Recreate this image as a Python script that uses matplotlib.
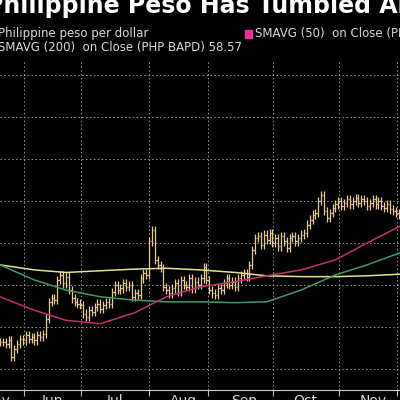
import matplotlib.pyplot as plt
import numpy as np

# closing prices, one per trading day
closes = [
    56.82, 56.82, 56.80, 56.84, 56.64, 56.74, 56.80, 56.86, 56.84, 56.90,
    56.86, 56.88, 56.84, 56.90, 56.88, 56.92, 57.10, 57.30, 57.34, 57.32,
    57.56, 57.62, 57.52, 57.60, 57.44, 57.34, 57.30, 57.28, 57.26, 57.16,
    57.12, 57.20, 57.18, 57.24, 57.28, 57.22, 57.26, 57.30, 57.28, 57.42,
    57.50, 57.44, 57.46, 57.52, 57.48, 57.50, 57.36, 57.40, 57.38, 57.58,
    57.64, 57.62, 58.02, 58.15, 57.80, 57.74, 57.70, 57.48, 57.44, 57.40,
    57.46, 57.52, 57.42, 57.56, 57.50, 57.48, 57.58, 57.46, 57.54, 57.50,
    57.58, 57.71, 57.56, 57.44, 57.40, 57.38, 57.46, 57.44, 57.52, 57.58,
    57.50, 57.54, 57.48, 57.58, 57.62, 57.64, 57.60, 57.74, 57.92, 58.06,
    58.08, 57.98, 58.10, 58.04, 58.12, 58.00, 58.06, 57.96, 58.08, 58.02,
    57.94, 58.06, 58.08, 58.02, 58.06, 58.10, 58.12, 58.22, 58.28, 58.34,
    58.36, 58.50, 58.57, 58.38, 58.30, 58.36, 58.42, 58.46, 58.50, 58.44,
    58.48, 58.52, 58.46, 58.50, 58.54, 58.48, 58.52, 58.50, 58.44, 58.48,
    58.52, 58.46, 58.50, 58.44, 58.42, 58.46, 58.40, 58.38, 58.36, 58.34,
]

# moving averages, sampled along the chart
sma_idx = [0, 12, 23, 35, 47, 58, 70, 82, 93, 105, 117, 128, 140]
sma200 = [57.74, 57.68, 57.65, 57.67, 57.69, 57.70, 57.68, 57.65, 57.61, 57.60, 57.60, 57.61, 57.63]
sma100 = [57.74, 57.56, 57.44, 57.36, 57.32, 57.30, 57.30, 57.29, 57.30, 57.44, 57.62, 57.74, 57.89]
sma50 = [57.36, 57.20, 57.08, 57.04, 57.17, 57.36, 57.48, 57.54, 57.61, 57.68, 57.80, 58.00, 58.21]

month_starts = [8.4, 28.3, 52.1, 72.4, 95.1, 118.2, 138.5]
month_labels = ["May", "Jun", "Jul", "Aug", "Sep", "Oct", "Nov"]
month_label_pos = [-1.5, 18.2, 40.2, 64.0, 85.0, 106.6, 130.0]

BG = "black"
BAR = "#e9c9a0"
TXT = "#d8d8d8"

fig = plt.figure(figsize=(4, 4), dpi=100, facecolor=BG)
ax = fig.add_axes([0, 0.025, 1, 0.825], facecolor=BG)

x = np.arange(len(closes))
opens = [closes[0]] + closes[:-1]
wick = 0.05
for i, (o, c) in enumerate(zip(opens, closes)):
    hi = max(o, c) + wick
    lo = min(o, c) - wick
    ax.vlines(i, lo, hi, color=BAR, lw=0.9)
    ax.hlines(o, i - 0.45, i, color=BAR, lw=0.9)
    ax.hlines(c, i, i + 0.45, color=BAR, lw=0.9)

ax.plot(sma_idx, sma200, color="#e6e08a", lw=1.1)
ax.plot(sma_idx, sma100, color="#3f9a6a", lw=1.1)
ax.plot(sma_idx, sma50, color="#c2306e", lw=1.1)

ax.set_xlim(0, 139.5)
ax.set_ylim(56.25, 60.18)
ax.set_yticks(np.arange(56.5, 60.01, 0.5))
ax.set_xticks(month_starts)
ax.tick_params(axis="x", colors="#bbbbbb", length=4, labelbottom=False)
ax.tick_params(axis="y", left=False, labelleft=False)
ax.grid(True, color="#9a9a9a", ls=(0, (1.5, 2.5)), lw=0.7)
for s in ["top", "left", "right"]:
    ax.spines[s].set_visible(False)
ax.spines["bottom"].set_color("#cccccc")

for lab, p in zip(month_labels, month_label_pos):
    ax.text(p, -0.012, lab, transform=ax.get_xaxis_transform(), color=TXT,
            fontsize=10, ha="center", va="top", clip_on=False)

fig.text(-0.035, 0.985, "Philippine Peso Has Tumbled Amid", color="white",
         fontsize=17, fontweight="bold", ha="left", va="center")
fig.text(-0.005, 0.917, "Philippine peso per dollar", color=TXT, fontsize=8.5, ha="left", va="center")
fig.text(-0.005, 0.88, "SMAVG (200)  on Close (PHP BAPD) 58.57", color=TXT, fontsize=8.5, ha="left", va="center")
fig.patches.append(plt.Rectangle((0.613, 0.905), 0.016, 0.02, transform=fig.transFigure,
                                 color="#e0359a", figure=fig))
fig.text(0.638, 0.915, "SMAVG (50)  on Close (PHP BAPD) 58.21", color=TXT, fontsize=8.5, ha="left", va="center")

fig.savefig("out.png", dpi=100, facecolor=BG)
